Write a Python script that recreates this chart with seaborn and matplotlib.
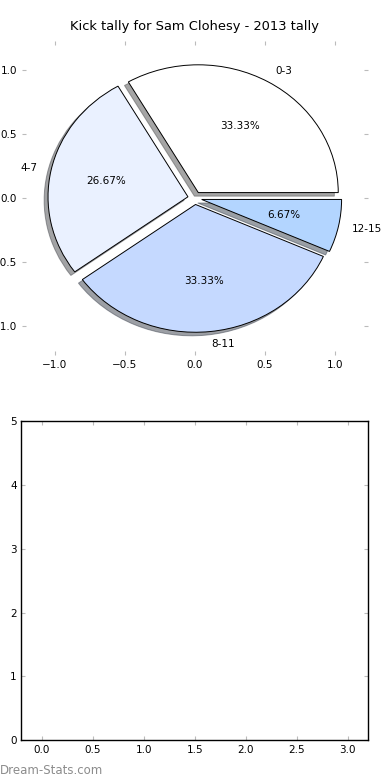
import matplotlib
matplotlib.use("Agg")
import matplotlib.pyplot as plt
import seaborn as sns


# Kick tally data
labels = ["0-3", "4-7", "8-11", "12-15"]
kicks = [5, 4, 5, 1]
explode = [0.05, 0.05, 0.05, 0.05]
colors = ["#FFFFFF", "#EAF1FF", "#C5D9FF", "#B3D5FF"]

title = "Kick tally for Sam Clohesy - 2013 tally"
pie_ticks = [-1.0, -0.5, 0.0, 0.5, 1.0]
bottom_xticks = [0.0, 0.5, 1.0, 1.5, 2.0, 2.5, 3.0]
bottom_yticks = [0, 1, 2, 3, 4, 5]

sns.set_style("white")
plt.rcParams["font.family"] = ["DejaVu Sans"]
plt.rcParams["text.color"] = "black"
plt.rcParams["axes.labelcolor"] = "black"

fig = plt.figure(figsize=(3.9, 7.8), dpi=100)

# Top: pie chart
ax1 = fig.add_axes([0.056, 0.545, 0.887, 0.402])
ax1.pie(kicks, labels=labels, explode=explode, colors=colors,
        autopct="%1.2f%%", shadow=True, startangle=0,
        wedgeprops={"edgecolor": "black", "linewidth": 0.7},
        textprops={"fontsize": 7.5, "color": "black"})
ax1.set_aspect("auto")
ax1.set_xlim(-1.236, 1.236)
ax1.set_ylim(-1.227, 1.227)
ax1.set_xticks(pie_ticks)
ax1.set_yticks(pie_ticks)
ax1.set_frame_on(False)
ax1.tick_params(direction="in", top=True, right=True, length=3,
                color="#bbbbbb", labelcolor="black", labelsize=7.5,
                left=True, bottom=True)
ax1.set_title(title, fontsize=9.4, pad=8, color="black")

# Bottom: empty axes
ax2 = fig.add_axes([0.055, 0.051, 0.889, 0.409])
ax2.set_xlim(-0.2, 3.2)
ax2.set_ylim(0, 5)
ax2.set_xticks(bottom_xticks)
ax2.set_yticks(bottom_yticks)
for s in ax2.spines.values():
    s.set_color("black")
    s.set_linewidth(1.0)
ax2.tick_params(direction="in", top=True, right=True, length=3,
                color="#bbbbbb", labelcolor="black", labelsize=7.5,
                left=True, bottom=True)

# watermark
fig.text(0.0, 0.004, "Dream-Stats.com", fontsize=8.5, color="#8c8c8c",
         ha="left", va="bottom")

fig.savefig("out.png", dpi=100)
